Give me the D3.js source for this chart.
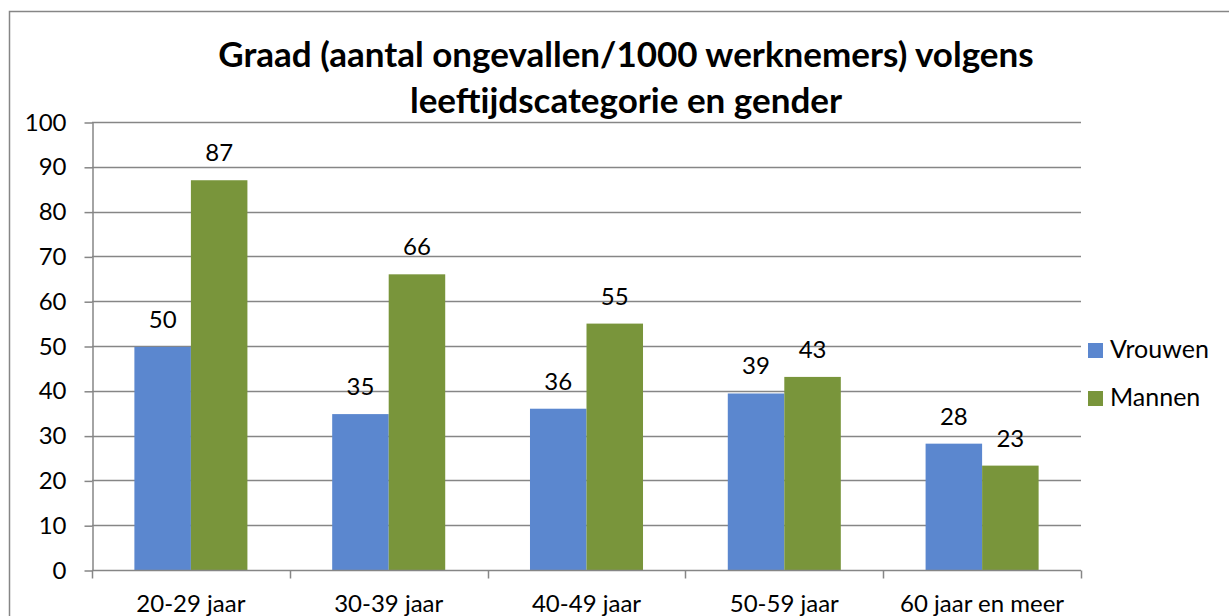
<!DOCTYPE html>
<html>
<head>
<meta charset="utf-8">
<script src="https://cdn.jsdelivr.net/npm/d3@7"></script>
<style>
  body { margin: 0; background: #fff; }
  text { font-family: Lato, "Open Sans", sans-serif; fill: #000; }
</style>
</head>
<body>
<div id="chart"></div>
<script>
// Data
const categories = ["20-29 jaar", "30-39 jaar", "40-49 jaar", "50-59 jaar", "60 jaar en meer"];
const seriesNames = ["Vrouwen", "Mannen"];
const vrouwen = [49.8, 34.8, 36, 39.4, 28.2];
const mannen = [87, 66, 55, 43.1, 23.3];
const yTicks = [0, 10, 20, 30, 40, 50, 60, 70, 80, 90, 100];
const titleLines = ["Graad (aantal ongevallen/1000 werknemers) volgens", "leeftijdscategorie en gender"];

const colors = {Vrouwen: "#5b87cf", Mannen: "#79953b"};

const width = 1229, height = 616;
const plot = {left: 92, right: 1081, top: 122, bottom: 570};

const svg = d3.select("#chart").append("svg")
    .attr("width", width)
    .attr("height", height);

// Chart border
svg.append("rect")
    .attr("x", 9.5)
    .attr("y", 11.5)
    .attr("width", 1240)
    .attr("height", 640)
    .attr("fill", "none")
    .attr("stroke", "#868686")
    .attr("stroke-width", 1.5);

// Title
svg.append("text")
    .attr("text-anchor", "middle")
    .attr("font-weight", "bold")
    .attr("font-size", "35px")
    .selectAll("tspan")
    .data(titleLines)
    .join("tspan")
    .attr("x", 626)
    .attr("y", (d, i) => 67 + i * 46)
    .text(d => d);

// Scales
const x0 = d3.scaleBand()
    .domain(categories)
    .range([plot.left, plot.right])
    .paddingInner(0)
    .paddingOuter(0);

// gap width 150% of a bar, split over both sides
const barW = x0.bandwidth() / (2 + 1.5);
const x1 = d3.scaleBand()
    .domain(seriesNames)
    .range([barW * 0.75, x0.bandwidth() - barW * 0.75]);

const y = d3.scaleLinear()
    .domain([0, 100])
    .range([plot.bottom, plot.top]);

// Gridlines
svg.append("g")
    .selectAll("line")
    .data(yTicks.filter(d => d > 0))
    .join("line")
    .attr("x1", plot.left)
    .attr("x2", plot.right)
    .attr("y1", d => Math.round(y(d)) + 0.5)
    .attr("y2", d => Math.round(y(d)) + 0.5)
    .attr("stroke", "#868686")
    .attr("stroke-width", 1.5);

// Y axis
const yAxis = svg.append("g")
    .attr("transform", `translate(${plot.left + 0.5},0.5)`)
    .call(d3.axisLeft(y).tickValues(yTicks).tickSize(8).tickPadding(18).tickSizeOuter(0));
yAxis.select(".domain").attr("stroke", "#868686").attr("stroke-width", 1.5);
yAxis.selectAll(".tick line").attr("stroke", "#868686").attr("stroke-width", 1.5);
yAxis.selectAll(".tick text")
    .attr("font-size", "24px")
    .attr("font-family", "Lato, sans-serif")
    .attr("fill", "#000");

// Bars
const data = categories.map((c, i) => ({cat: c, values: [
    {name: "Vrouwen", value: vrouwen[i]},
    {name: "Mannen", value: mannen[i]}
]}));

const groups = svg.append("g")
    .selectAll("g")
    .data(data)
    .join("g")
    .attr("transform", d => `translate(${x0(d.cat)},0)`);

groups.selectAll("rect")
    .data(d => d.values)
    .join("rect")
    .attr("x", d => x1(d.name))
    .attr("y", d => y(d.value))
    .attr("width", x1.bandwidth())
    .attr("height", d => y(0) - y(d.value))
    .attr("fill", d => colors[d.name]);

// Data labels
groups.selectAll("text")
    .data(d => d.values)
    .join("text")
    .attr("x", d => x1(d.name) + x1.bandwidth() / 2)
    .attr("y", d => y(d.value) - 19)
    .attr("text-anchor", "middle")
    .attr("font-size", "24px")
    .text(d => d3.format(".0f")(d.value));

// X axis
const xAxis = svg.append("g")
    .attr("transform", `translate(0,${plot.bottom + 0.5})`);
xAxis.append("line")
    .attr("x1", plot.left)
    .attr("x2", plot.right)
    .attr("stroke", "#868686")
    .attr("stroke-width", 1.5);
xAxis.selectAll(".tick")
    .data(d3.range(categories.length + 1))
    .join("line")
    .attr("class", "tick")
    .attr("x1", i => Math.round(plot.left + i * x0.step()) + 0.5)
    .attr("x2", i => Math.round(plot.left + i * x0.step()) + 0.5)
    .attr("y1", 0)
    .attr("y2", 8)
    .attr("stroke", "#868686")
    .attr("stroke-width", 1.5);
xAxis.selectAll("text")
    .data(categories)
    .join("text")
    .attr("x", d => x0(d) + x0.bandwidth() / 2)
    .attr("y", 41)
    .attr("text-anchor", "middle")
    .attr("font-size", "24px")
    .text(d => d);

// Legend
const legend = svg.append("g")
    .selectAll("g")
    .data(seriesNames)
    .join("g")
    .attr("transform", (d, i) => `translate(1088,${343 + i * 48})`);
legend.append("rect")
    .attr("width", 15)
    .attr("height", 15)
    .attr("fill", d => colors[d]);
legend.append("text")
    .attr("x", 22)
    .attr("y", 15)
    .attr("font-size", "25px")
    .text(d => d);
</script>
</body>
</html>
